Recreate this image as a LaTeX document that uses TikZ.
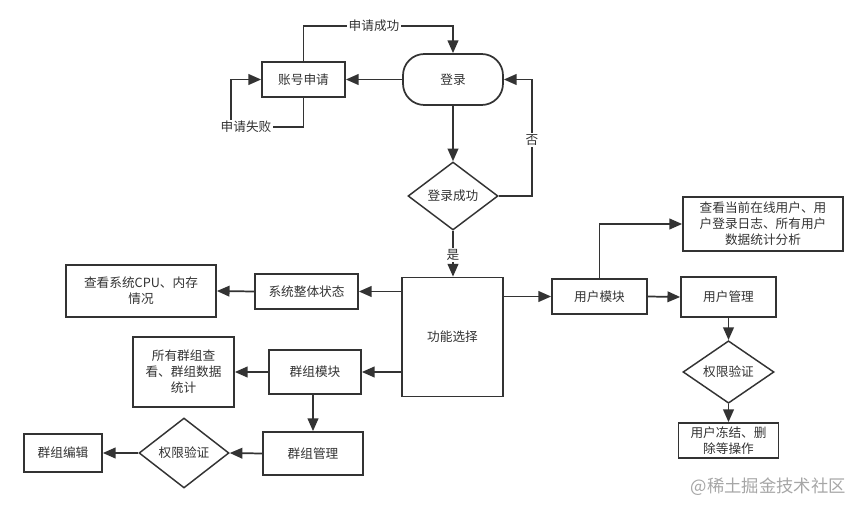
\documentclass[tikz,border=0pt]{standalone}
\usepackage{fontspec}
\setmainfont{Noto Sans CJK SC}
\usetikzlibrary{arrows.meta,shapes.geometric}
\definecolor{ink}{HTML}{333333}
\tikzset{
  every node/.style={font=\fontsize{9.5}{12}\selectfont, text=ink},
  box/.style={draw=ink, line width=1.3pt, fill=white, rectangle, inner sep=0pt, align=center},
  stadium/.style={draw=ink, line width=1.3pt, fill=white, rectangle, rounded corners=16pt, inner sep=0pt},
  decide/.style={draw=ink, line width=1.1pt, fill=white, diamond, inner sep=0pt},
  conn/.style={draw=ink, line width=1.3pt, -{Triangle[length=9.5pt,width=8pt]}},
  lbl/.style={fill=white, inner sep=1pt},
  wm/.style={font=\fontsize{13}{15}\selectfont, text=black!35}
}
\begin{document}
\begin{tikzpicture}[x=0.75pt, y=-0.75pt]
\useasboundingbox (0,0) rectangle (867,513);
% nodes
\node[box, minimum width=62.25pt, minimum height=26.25pt] (apply) at (303.5,79.5) {账号申请};
\node[stadium, minimum width=75pt, minimum height=38.25pt] (login) at (453,79.5) {登录};
\node[decide, minimum width=67.5pt, minimum height=51pt] (ok) at (453,196) {登录成功};
\node[box, minimum width=75.75pt, minimum height=89.25pt] (func) at (452.5,337) {功能选择};
\node[box, minimum width=77.25pt, minimum height=26.25pt] (sys) at (306.5,291.5) {系统整体状态};
\node[box, minimum width=112.5pt, minimum height=39pt] (cpu) at (141,291) {查看系统CPU、内存\\情况};
\node[box, minimum width=69pt, minimum height=33pt] (grp) at (315,372) {群组模块};
\node[box, minimum width=75.75pt, minimum height=52.5pt] (grpstat) at (183.5,372) {所有群组查\\看、群组数据\\统计};
\node[box, minimum width=75pt, minimum height=32.25pt] (grpmgr) at (313,453.5) {群组管理};
\node[decide, minimum width=67.5pt, minimum height=52.5pt] (auth1) at (184,453) {权限验证};
\node[box, minimum width=58.5pt, minimum height=28.5pt] (grpedit) at (63,453) {群组编辑};
\node[box, minimum width=71.25pt, minimum height=26.25pt] (user) at (599.5,296.5) {用户模块};
\node[box, minimum width=120pt, minimum height=40.5pt] (online) at (763,224) {查看当前在线用户、用\\户登录日志、所有用户\\数据统计分析};
\node[box, minimum width=71.25pt, minimum height=30pt] (usermgr) at (728.5,297) {用户管理};
\node[decide, minimum width=68.25pt, minimum height=30pt] (auth2) at (728.5,372) {权限验证};
\node[box, minimum width=75pt, minimum height=26.25pt] (freeze) at (728.5,440.5) {用户冻结、删\\除等操作};
% connectors
\coordinate (a1) at (303.5,26);
\coordinate (a2) at (453,26);
\draw[conn] (apply.north) -- (a1) -- (a2) -- (login.north);
\node[lbl] at (374,26) {申请成功};
\coordinate (f1) at (303.5,127);
\coordinate (f2) at (231,127);
\coordinate (f3) at (231,79.5);
\draw[conn] (apply.south) -- (f1) -- (f2) -- (f3) -- (apply.west);
\node[lbl] at (246,127) {申请失败};
\draw[conn] (login.west) -- (apply.east);
\draw[conn] (login.south) -- (ok.north);
\coordinate (n1) at (532,196);
\coordinate (n2) at (532,79.5);
\draw[conn] (ok.east) -- (n1) -- (n2) -- (login.east);
\node[lbl] at (532,140) {否};
\draw[conn] (ok.south) -- (ok.south |- func.north);
\node[lbl] at (453,255) {是};
\draw[conn] (func.west |- sys.east) -- (sys.east);
\draw[conn] (sys.west) -- (cpu.east);
\draw[conn] (func.west |- grp.east) -- (grp.east);
\draw[conn] (grp.west) -- (grpstat.east);
\draw[conn] (grp.south -| grpmgr.north) -- (grpmgr.north);
\draw[conn] (grpmgr.west) -- (auth1.east);
\draw[conn] (auth1.west) -- (grpedit.east);
\draw[conn] (func.east |- user.west) -- (user.west);
\coordinate (u1) at (599.5,224);
\draw[conn] (user.north) -- (u1) -- (online.west);
\draw[conn] (user.east) -- (usermgr.west);
\draw[conn] (usermgr.south) -- (auth2.north);
\draw[conn] (auth2.south) -- (freeze.north);
\node[wm, anchor=west] (wmk) at (686,487) {@稀土掘金技术社区};
\end{tikzpicture}
\end{document}
